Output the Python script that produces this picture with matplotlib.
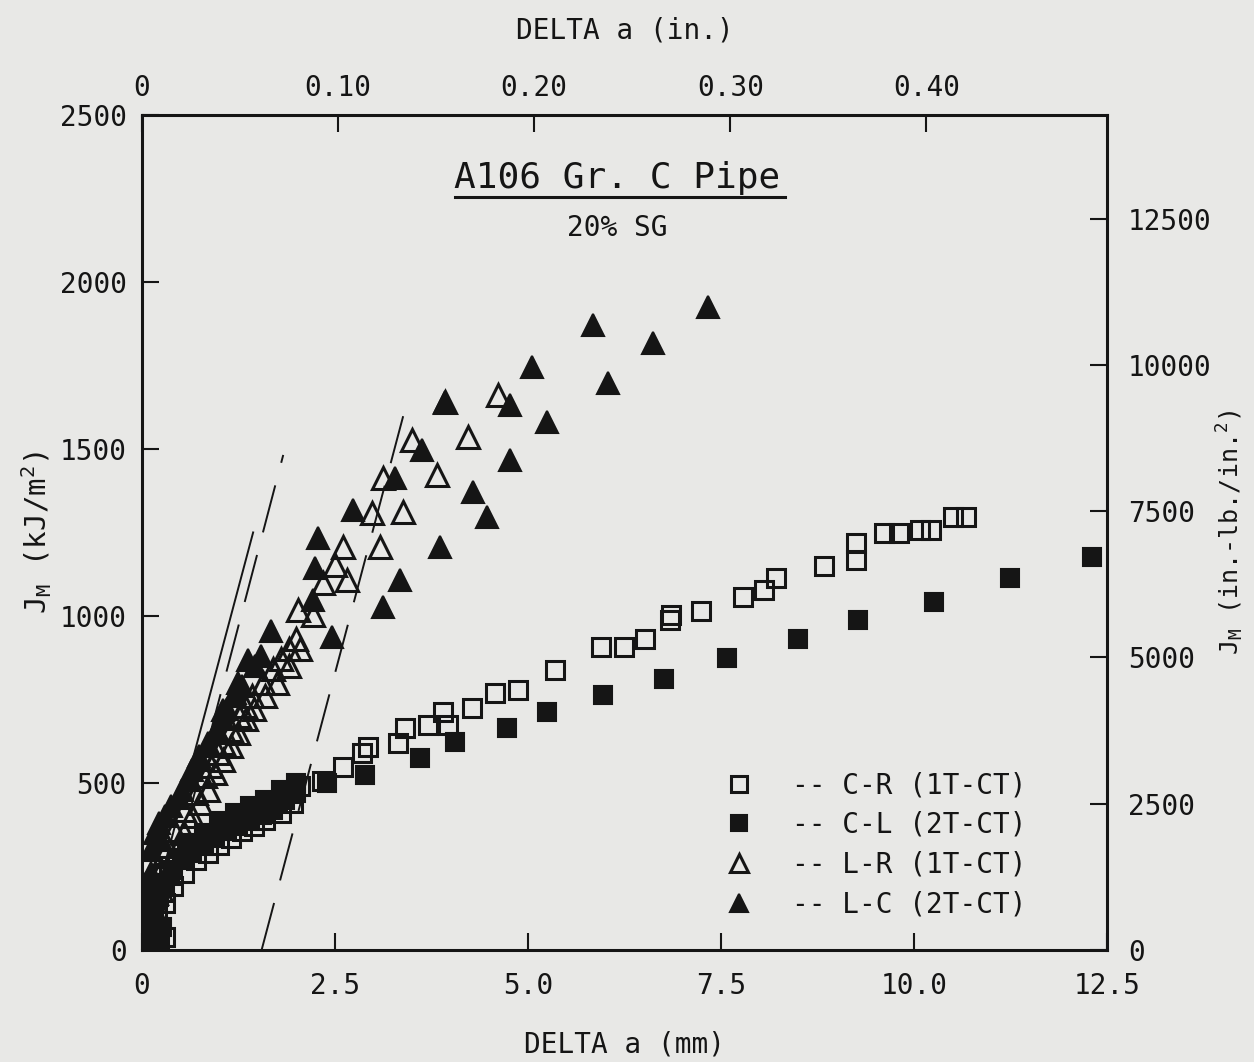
import numpy as np
import matplotlib
matplotlib.use("Agg")
import matplotlib.pyplot as plt

# Delta a (mm) and J_M (kJ/m^2)
cr_x = [0.03, 0.08, 0.13, 0.18, 0.25, 0.35, 0.45, 0.58, 0.72, 0.86, 1.00, 1.15, 1.30, 1.45, 1.60,
        1.75, 1.90, 2.05, 2.33, 2.60, 2.85, 2.93, 3.32, 3.41, 3.70, 3.90, 3.96, 4.27, 4.57, 4.87,
        5.35, 5.95, 6.24, 6.52, 6.84, 6.85, 7.24, 7.78, 8.06, 8.21, 8.83, 9.25, 9.25, 9.61, 9.81,
        10.08, 10.22, 10.51, 10.67,
        0.10, 0.20, 0.30, 0.40, 0.55, 0.70, 0.85, 1.00, 1.15, 1.30, 1.45, 1.60, 1.80, 1.95,
        0.12, 0.22, 0.30]
cr_y = [30, 80, 130, 180, 220, 250, 275, 300, 320, 340, 360, 380, 395, 410, 425,
        445, 470, 490, 505, 548, 590, 608, 620, 665, 674, 713, 674, 725, 769, 778,
        838, 907, 907, 931, 988, 1003, 1015, 1057, 1078, 1114, 1150, 1219, 1168, 1249, 1249,
        1257, 1257, 1296, 1296,
        30, 100, 140, 190, 230, 270, 290, 315, 335, 355, 370, 390, 410, 440,
        10, 15, 40]

cl_x = [0.05, 0.10, 0.15, 0.22, 0.30, 0.40, 0.52, 0.65, 0.80, 0.95, 1.10, 1.25, 1.40, 1.55, 1.70,
        1.85, 2.00, 2.40, 2.89, 3.60, 4.05, 4.73, 5.25, 5.97, 6.76, 7.58, 8.50, 9.27, 10.26,
        11.24, 12.31,
        0.03, 0.18, 0.26, 0.60, 0.80, 1.00, 1.20, 1.40, 1.60, 1.80, 2.00,
        0.08, 0.20, 0.15]
cl_y = [20, 60, 110, 160, 200, 240, 270, 290, 310, 335, 355, 370, 385, 405, 420,
        450, 470, 500, 524, 575, 623, 665, 713, 763, 811, 874, 931, 988, 1042,
        1114, 1177,
        160, 40, 70, 320, 350, 385, 410, 430, 450, 480, 500,
        10, 10, 200]

lr_x = [0.05, 0.10, 0.18, 0.25, 0.30, 0.33, 0.42, 0.55, 0.70, 0.82, 0.90, 0.98, 1.05, 1.15, 1.26,
        1.34, 1.43, 1.57, 1.70, 1.80, 1.90, 2.00, 2.02, 2.22, 2.34, 2.50, 2.60, 2.66, 2.98, 3.08,
        3.12, 3.38, 3.50, 3.82, 3.92, 4.22, 4.61,
        0.15, 0.25, 0.35, 0.45, 0.55, 0.65, 0.75, 0.85, 0.95, 1.05, 1.15, 1.25, 1.35, 1.45,
        1.60, 1.75, 1.90, 2.05]
lr_y = [60, 110, 170, 240, 290, 310, 360, 420, 470, 520, 550, 590, 620, 660, 700,
        730, 760, 800, 840, 870, 900, 930, 1018, 1003, 1099, 1153, 1207, 1108, 1308, 1207,
        1413, 1311, 1527, 1422, 1641, 1536, 1662,
        120, 180, 230, 300, 350, 400, 440, 480, 530, 570, 610, 650, 690, 720,
        760, 800, 850, 900]

lc_x = [0.03, 0.06, 0.10, 0.12, 0.17, 0.25, 0.30, 0.48, 0.62, 0.75, 0.85, 0.95, 1.05, 1.05, 1.20,
        1.24, 1.37, 1.67, 2.22, 2.24, 2.28, 2.46, 2.73, 3.12, 3.28, 3.34, 3.63, 3.86, 3.92, 4.29,
        4.47, 4.77, 4.77, 5.05, 5.25, 5.84, 6.04, 6.62, 7.33,
        0.05, 0.12, 0.22, 0.38, 0.52, 0.65, 0.74, 0.86, 0.97, 1.10, 1.20, 1.29, 1.47, 1.54]
lc_y = [40, 90, 150, 230, 350, 330, 400, 455, 510, 570, 610, 650, 690, 719, 770,
        800, 868, 955, 1048, 1144, 1234, 937, 1317, 1027, 1413, 1108, 1497, 1207, 1641, 1371,
        1296, 1467, 1632, 1746, 1581, 1871, 1697, 1817, 1925,
        200, 300, 380, 430, 480, 540, 580, 620, 660, 720, 760, 790, 850, 880]

# blunting line and offset / exclusion lines (end points)
blunt_x = [0.0, 1.44]
blunt_y = [0, 1250]
offset_x = [0.15, 1.83]
offset_y = [0, 1482]
excl_x = [1.55, 3.42]
excl_y = [0, 1630]

labels = ["-- C-R (1T-CT)", "-- C-L (2T-CT)", "-- L-R (1T-CT)", "-- L-C (2T-CT)"]

MM_PER_IN = 25.4
KJ_TO_INLB = 5.710  # 1 kJ/m^2 in in.-lb./in.^2

bg = "#e8e8e6"
ink = "#151515"
plt.rcParams["font.family"] = ["DejaVu Sans Mono", "DejaVu Sans"]
plt.rcParams["mathtext.fontset"] = "custom"
plt.rcParams["mathtext.rm"] = "DejaVu Sans Mono"
plt.rcParams["mathtext.it"] = "DejaVu Sans Mono"

fig = plt.figure(figsize=(12.54, 10.62), dpi=100, facecolor=bg)
ax = fig.add_axes([0.1132, 0.1055, 0.7696, 0.7863], facecolor=bg)

ax.plot(blunt_x, blunt_y, color=ink, lw=1.4)
ax.plot(offset_x, offset_y, color=ink, lw=1.4, dashes=[25, 12])
ax.plot(excl_x, excl_y, color=ink, lw=1.4, dashes=[25, 12])

h1, = ax.plot(cr_x, cr_y, ls="none", marker="s", ms=13, mfc="none", mec=ink, mew=2.2)
h2, = ax.plot(cl_x, cl_y, ls="none", marker="s", ms=13, mfc=ink, mec=ink, mew=1.5)
h3, = ax.plot(lr_x, lr_y, ls="none", marker="^", ms=16, mfc="none", mec=ink, mew=2.2)
h4, = ax.plot(lc_x, lc_y, ls="none", marker="^", ms=16, mfc=ink, mec=ink, mew=1.5)

ax.set_xlim(0, 12.5)
ax.set_ylim(0, 2500)
ax.set_xticks([0, 2.5, 5, 7.5, 10, 12.5])
ax.set_xticklabels(["0", "2.5", "5.0", "7.5", "10.0", "12.5"])
ax.set_yticks([0, 500, 1000, 1500, 2000, 2500])

for s in ax.spines.values():
    s.set_linewidth(2.2)
    s.set_color(ink)
ax.tick_params(axis="x", direction="in", length=12, width=1.5, labelsize=20, pad=16, colors=ink)
ax.tick_params(axis="y", direction="in", length=12, width=1.5, labelsize=20, pad=11, colors=ink)

ax.set_xlabel("DELTA a (mm)", fontsize=20, labelpad=22, color=ink)
ax.set_ylabel(r"J$_\mathrm{M}$ (kJ/m$^2$)", fontsize=21, labelpad=4, color=ink)

top = ax.secondary_xaxis("top", functions=(lambda v: v / MM_PER_IN, lambda v: v * MM_PER_IN))
top.set_xticks([0, 0.1, 0.2, 0.3, 0.4])
top.set_xticklabels(["0", "0.10", "0.20", "0.30", "0.40"])
top.tick_params(direction="in", length=12, width=1.5, labelsize=20, pad=9, colors=ink)
top.set_xlabel("DELTA a (in.)", fontsize=20, labelpad=26, color=ink)

right = ax.secondary_yaxis("right", functions=(lambda v: v * KJ_TO_INLB, lambda v: v / KJ_TO_INLB))
right.set_yticks([0, 2500, 5000, 7500, 10000, 12500])
right.tick_params(direction="in", length=12, width=1.5, labelsize=20, pad=15, colors=ink)
right.set_ylabel(r"J$_\mathrm{M}$ (in.-lb./in.$^2$)", fontsize=18, labelpad=2, color=ink)

ax.text(0.492, 0.925, "A106 Gr. C Pipe", transform=ax.transAxes, ha="center", va="center",
        fontsize=26, color=ink)
ax.plot([0.324, 0.666], [0.902, 0.902], transform=ax.transAxes, color=ink, lw=2.2)
ax.text(0.492, 0.865, "20% SG", transform=ax.transAxes, ha="center", va="center",
        fontsize=20, color=ink)

leg = ax.legend([h1, h2, h3, h4], labels, loc="upper left", bbox_to_anchor=(0.604, 0.214),
                frameon=False, fontsize=20, handlelength=1.0, handletextpad=1.4,
                labelspacing=0.42, borderpad=0, borderaxespad=0, markerscale=0.85)
for t in leg.get_texts():
    t.set_color(ink)

fig.savefig("out.png", dpi=100, facecolor=bg)
